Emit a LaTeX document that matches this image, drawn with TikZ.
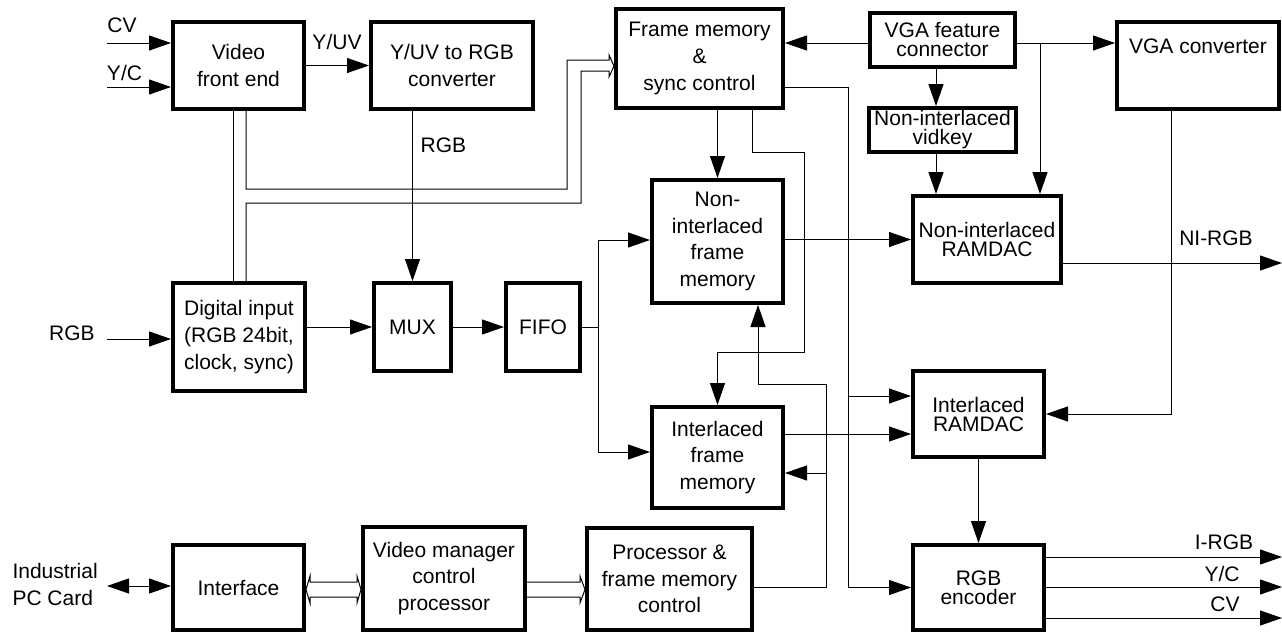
\documentclass[tikz,border=0pt]{standalone}
\usepackage{fontspec}
\setmainfont{Liberation Sans}
\usepackage{tikz}
\usetikzlibrary{arrows.meta,calc}

\begin{document}
\begin{tikzpicture}[x=0.5pt, y=-0.5pt, line width=0.5pt,
        >={Triangle[length=11pt,width=7.5pt]},
        every node/.style={font=\fontsize{10.5pt}{13.3pt}\selectfont, inner sep=0pt, align=center},
        blk/.style 2 args={draw, line width=2pt, minimum width=#1*0.5pt, minimum height=#2*0.5pt},
        tight/.style={font=\fontsize{10.5pt}{9.5pt}\selectfont}]

    % Fixes the page to the size of the board picture
    \useasboundingbox (0,0) rectangle (1282,632);

    % Blocks, placed by their centres (pixel units)
    \begin{scope}
        \node[blk={131}{87}] (vfe) at (238.5,65.5) {Video\\front end};
        \node[blk={162}{87}] (yuv) at (452,65.5) {Y/UV to RGB\\converter};
        \node[blk={167}{99}] (fmem) at (699.5,58.5) {Frame memory\\\&\\sync control};
        \node[blk={145}{54}, tight] (vgafc) at (942.5,40) {VGA feature\\connector};
        \node[blk={147}{44}, tight] (vidkey) at (942.5,130) {Non-interlaced\\vidkey};
        \node[blk={162}{87}, label={[yshift=9.75pt]center:VGA converter}] (vgac) at (1198,65.5) {};
        \node[blk={131}{123}] (nifm) at (717.5,241.5) {Non-\\interlaced\\frame\\memory};
        \node[blk={148}{87}, tight] (niram) at (987,239.5) {Non-interlaced\\RAMDAC};
        \node[blk={132}{108}] (dig) at (239,337) {Digital input\\(RGB 24bit,\\clock, sync)};
        \node[blk={77}{88}] (mux) at (412.5,327) {MUX};
        \node[blk={74}{88}] (fifo) at (543,327) {FIFO};
        \node[blk={131}{101}] (ifm) at (717.5,457.5) {Interlaced\\frame\\memory};
        \node[blk={131}{86}, tight] (iram) at (978.5,414) {Interlaced\\RAMDAC};
        \node[blk={131}{85}, tight] (enc) at (978.5,587.5) {RGB\\encoder};
        \node[blk={131}{85}] (iface) at (238.5,587.5) {Interface};
        \node[blk={162}{103}] (vmcp) at (444,578.5) {Video manager\\control\\processor};
        \node[blk={165}{102}] (pfmc) at (669.5,579) {Processor \&\\frame memory\\control};
    \end{scope}

    % Free ends of the inputs and outputs
    \coordinate (cvin) at (107,43);
    \coordinate (ycin) at (107,87);
    \coordinate (rgbin) at (107,339);
    \coordinate (pcin) at (107,586);
    \coordinate (niout) at (1282,263);
    \coordinate (irgbout) at (1282,557);
    \coordinate (ycoutc) at (1282,587);
    \coordinate (cvoutc) at (1282,618);
    \coordinate (fsplit) at (598,327);

    % Signal labels
    \node (cvlbl) at (122,25) {CV};
    \node (yclbl) at (124.5,73) {Y/C};
    \node (rgblbl) at (72,333) {RGB};
    \node[anchor=west, align=left] (pclbl) at (12,584.5) {Industrial\\PC Card};
    \node (yuvlbl) at (337,42) {Y/UV};
    \node (rgbmid) at (443.5,145) {RGB};
    \node (nilbl) at (1216,238) {NI-RGB};
    \node (irgblbl) at (1224,542) {I-RGB};
    \node (yclblo) at (1222,574) {Y/C};
    \node (cvlblo) at (1225,604) {CV};

    % Inputs
    \draw[->] (cvin) -- (vfe.west |- cvin);
    \draw[->] (ycin) -- (vfe.west |- ycin);
    \draw[->] (rgbin) -- (dig.west |- rgbin);
    \draw[<->] (pcin) -- (iface.west |- pcin);

    % Video path
    \draw[->] (vfe) -- (yuv);
    \draw[->] (mux.north |- yuv.south) -- (mux.north);
    \draw[->] (dig.east |- mux.west) -- (mux.west);
    \draw[->] (mux) -- (fifo);
    \draw (fifo.east) -- (fsplit);
    \draw[->] (fsplit) |- (nifm.west |- 0,240);
    \draw[->] (fsplit) |- (ifm.west |- 0,452);

    % Bus from the front end and the digital input to the frame memory
    \draw (vfe.south -| 233,0) -- (dig.north -| 233,0);
    \draw (vfe.south -| 246,0) |- (567,189) |- (609,60) -- (609,55) -- (fmem.west |- 0,66)
        -- (609,77) -- (609,71) -| (581,203) -| (dig.north -| 246,0);

    % Bus of the control path
    \draw (iface.east |- 0,589.5) -- (310,576) -- (310,582) -- (357,582) -- (357,576)
        -- (vmcp.west |- 0,589.5) -- (357,603) -- (357,597) -- (310,597) -- (310,603) -- cycle;
    \draw (vmcp.east |- 0,582) -- (580,582) -- (580,576) -- (pfmc.west |- 0,589.5)
        -- (580,603) -- (580,597) -- (vmcp.east |- 0,597);

    % Frame memory control
    \draw[->] (nifm.north |- fmem.south) -- (nifm.north);
    \draw[->] (fmem.south -| 752,0) |- (804,152) -- (804,352) -| (ifm.north);
    \draw[->] (fmem.east |- 0,87) -| (848,396) -- (iram.west |- 0,396);
    \draw[->] (848,396) |- (enc.west);
    \draw[->] (pfmc.east |- 0,587) -| (826,384) -| (nifm.south -| 758,0);
    \draw[->] (826,473) -- (ifm.east |- 0,473);

    % Memories to RAMDACs
    \draw[->] (nifm.east |- niram.west) -- (niram.west);
    \draw[->] (ifm.east |- 0,434) -- (iram.west |- 0,434);

    % VGA side
    \draw[->] (vgafc.west |- 0,43) -- (fmem.east |- 0,43);
    \draw[->] (vgafc.east |- 0,43) -- (vgac.west |- 0,43);
    \draw[->] (1040,43) -- (niram.north -| 1040,0);
    \draw[->] (vgafc.south -| 936,0) -- (vidkey.north -| 936,0);
    \draw[->] (vidkey.south -| 936,0) -- (niram.north -| 936,0);
    \draw[->] (vgac.south -| 1171,0) |- (iram.east);

    % Outputs
    \draw[->] (niram.east |- niout) -- (niout);
    \draw[->] (iram) -- (enc);
    \draw[->] (enc.east |- irgbout) -- (irgbout);
    \draw[->] (enc.east |- ycoutc) -- (ycoutc);
    \draw[->] (enc.east |- cvoutc) -- (cvoutc);

\end{tikzpicture}
\end{document}
